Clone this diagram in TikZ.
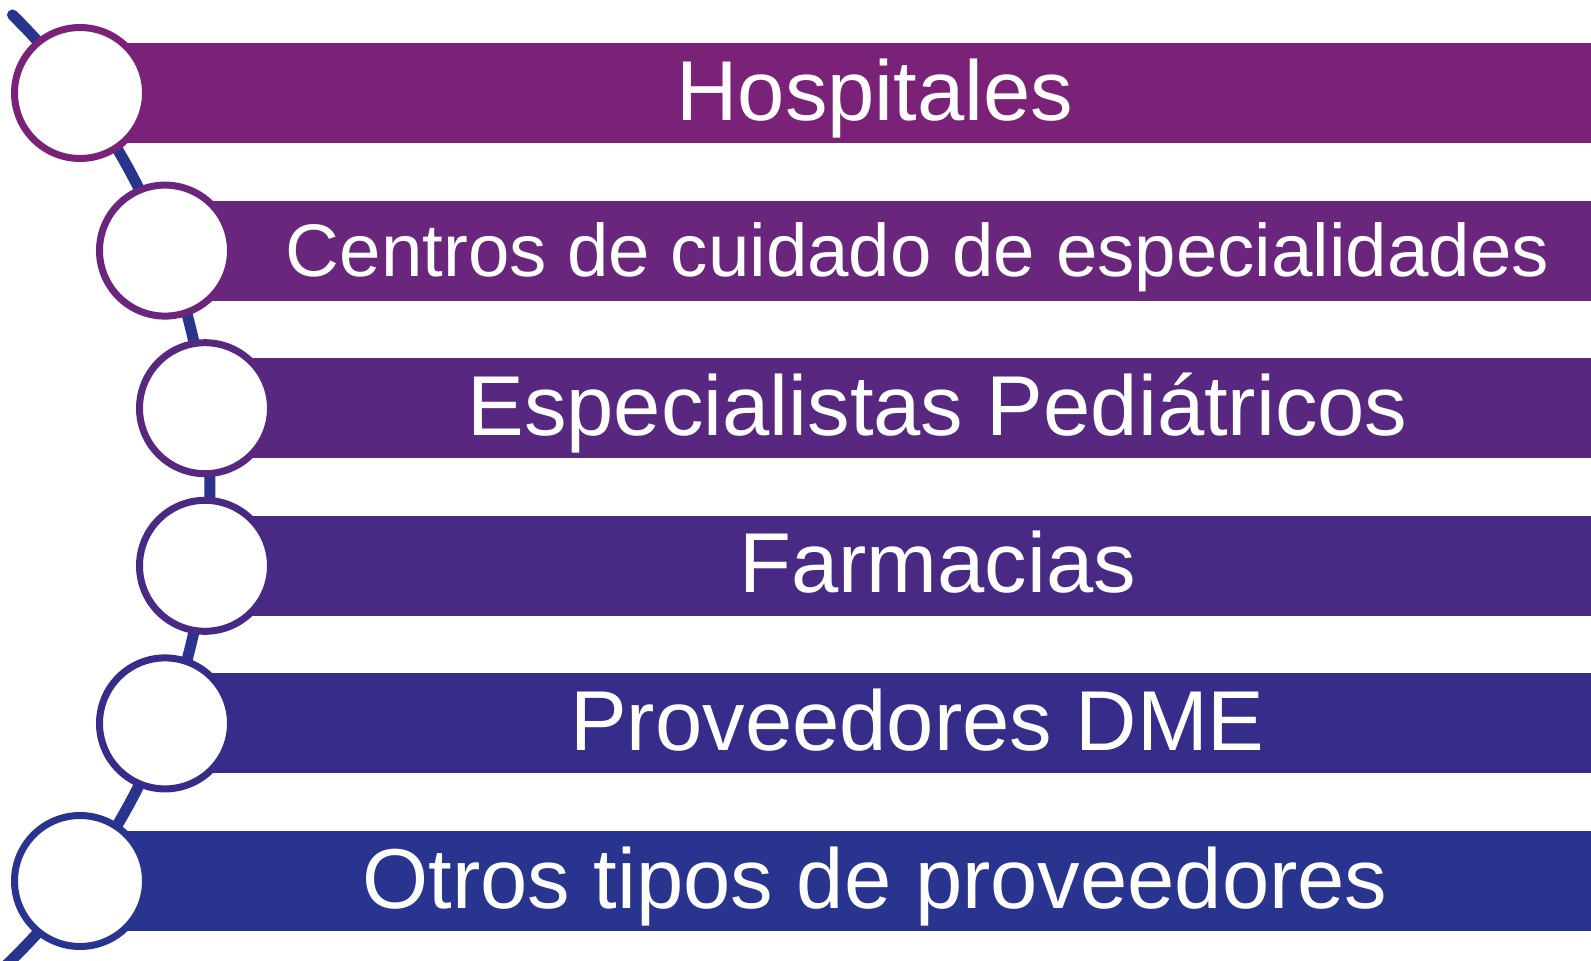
\documentclass[tikz,border=0pt]{standalone}
\usepackage{fontspec}
\setmainfont{Liberation Sans}
\definecolor{k1}{RGB}{122,34,119}
\definecolor{k2}{RGB}{106,38,124}
\definecolor{k3}{RGB}{88,40,128}
\definecolor{k4}{RGB}{72,42,132}
\definecolor{k5}{RGB}{54,44,137}
\definecolor{k6}{RGB}{41,52,142}
\definecolor{arccol}{RGB}{40,52,142}
\tikzset{
  bar/.style={fill=#1, draw=none, minimum height=100pt, inner sep=0pt, anchor=west},
  ring/.style={circle, draw=#1, fill=white, line width=7pt, minimum size=131pt, inner sep=0pt},
  label/.style={text=white, font=\fontsize{85}{100}\selectfont, anchor=base, inner sep=0pt},
  spine/.style={draw=arccol, line width=11pt, line cap=round}
}
\begin{document}
\begin{tikzpicture}[x=1pt,y=-1pt]
\useasboundingbox (0,0) rectangle (1591,961);
\clip (0,0) rectangle (1591,961);
% spine arc
\coordinate (arcstart) at ({-453+663*cos(-45.4)},{487+663*sin(-45.4)});
\draw[spine] (arcstart) arc[start angle=-45.4, end angle=47, radius=663];
% bars
\node[bar=k1, minimum width=1511pt] (b1) at (80,93) {};
\node[bar=k2, minimum width=1426pt] (b2) at (165,250.6) {};
\node[bar=k3, minimum width=1386pt] (b3) at (205,408.2) {};
\node[bar=k4, minimum width=1386pt] (b4) at (205,565.8) {};
\node[bar=k5, minimum width=1426pt] (b5) at (165,723.4) {};
\node[bar=k6, minimum width=1511pt] (b6) at (80,881) {};
% circles
\node[ring=k1] (c1) at (80,93) {};
\node[ring=k2] (c2) at (165,250.6) {};
\node[ring=k3] (c3) at (205,408.2) {};
\node[ring=k4] (c4) at (205,565.8) {};
\node[ring=k5] (c5) at (165,723.4) {};
\node[ring=k6] (c6) at (80,881) {};
% texts
\node[label] (t1) at (875,120) {Hospitales};
\node[label, font=\fontsize{74.5}{90}\selectfont] (t2) at (917.5,276) {Centros de cuidado de especialidades};
\node[label] (t3) at (937.5,435.2) {Especialistas Pediátricos};
\node[label] (t4) at (937.5,592.8) {Farmacias};
\node[label] (t5) at (917.5,750.4) {Proveedores DME};
\node[label] (t6) at (875,908) {Otros tipos de proveedores};
\end{tikzpicture}
\end{document}
